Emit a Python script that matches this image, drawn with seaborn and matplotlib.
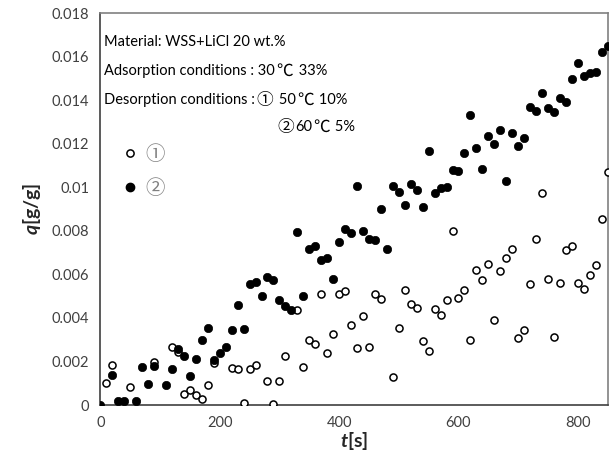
import numpy as np
import pandas as pd
import matplotlib
matplotlib.use("Agg")
import matplotlib.pyplot as plt
from matplotlib.lines import Line2D
import seaborn as sns

# condition 2 (filled): t [s], q [g/g]
t_filled = [0, 20, 30, 40, 60, 70, 80, 90, 110, 120, 130, 140, 150, 160, 170, 180, 190, 200,
            210, 220, 230, 240, 250, 260, 270, 280, 290, 300, 310, 320, 330, 340, 350, 360,
            370, 380, 390, 400, 410, 420, 430, 440, 450, 460, 470, 480, 490, 500, 510, 520,
            530, 540, 550, 560, 570, 580, 590, 600, 610, 620, 630, 640, 650, 660, 670, 680,
            690, 700, 710, 720, 730, 740, 750, 760, 770, 780, 790, 800, 810, 820, 830, 840, 850]
q_filled = [0, 0.00137, 0.0002, 0.0002, 0.0002, 0.00174, 0.00098, 0.00179, 0.00092, 0.00165,
            0.00256, 0.00226, 0.00134, 0.0021, 0.0030, 0.00354, 0.00209, 0.00241, 0.00267,
            0.00343, 0.0046, 0.00348, 0.00557, 0.00563, 0.00502, 0.0059, 0.00575, 0.0048,
            0.00453, 0.00435, 0.00793, 0.00502, 0.00717, 0.00732, 0.00667, 0.00676, 0.0058,
            0.0075, 0.00806, 0.00789, 0.01004, 0.008, 0.00764, 0.00758, 0.009, 0.00715, 0.01004,
            0.00978, 0.00917, 0.01015, 0.00989, 0.00911, 0.01167, 0.00974, 0.00995, 0.01002,
            0.0108, 0.01074, 0.01157, 0.0133, 0.01178, 0.01086, 0.01234, 0.01198, 0.01265,
            0.0103, 0.0125, 0.01189, 0.01224, 0.01367, 0.0135, 0.01434, 0.01363, 0.01346,
            0.01408, 0.01393, 0.01495, 0.01571, 0.0151, 0.01526, 0.0153, 0.01623, 0.01648]

# condition 1 (open)
t_open = [10, 20, 50, 90, 120, 130, 140, 150, 160, 170, 180, 190, 220, 230, 240, 250, 260,
          280, 290, 300, 310, 330, 340, 350, 360, 370, 380, 390, 400, 410, 420, 430, 440,
          450, 460, 470, 490, 500, 510, 520, 530, 540, 550, 560, 570, 580, 590, 600, 610,
          620, 630, 640, 650, 660, 670, 680, 690, 700, 710, 720, 730, 740, 750, 760, 770,
          780, 790, 800, 810, 820, 830, 840, 850]
q_open = [0.00102, 0.00185, 0.00082, 0.00197, 0.00266, 0.00243, 0.0005, 0.00069, 0.00046,
          0.00026, 0.00093, 0.00194, 0.0017, 0.00165, 0.0001, 0.00165, 0.00185, 0.0011,
          0.00005, 0.0011, 0.00226, 0.00435, 0.00174, 0.00297, 0.00282, 0.00508, 0.00241,
          0.00324, 0.00508, 0.00523, 0.00369, 0.00261, 0.0041, 0.00267, 0.00508, 0.00487,
          0.00128, 0.00354, 0.0053, 0.00465, 0.00447, 0.00293, 0.00246, 0.00439, 0.00415,
          0.00482, 0.008, 0.00493, 0.0053, 0.00297, 0.00621, 0.00575, 0.00647, 0.0039,
          0.00616, 0.00677, 0.00717, 0.00308, 0.00343, 0.00554, 0.00763, 0.00973, 0.0058,
          0.00313, 0.00558, 0.00713, 0.00732, 0.00558, 0.00534, 0.00595, 0.00641, 0.00856,
          0.01071]

x_ticks = [0, 200, 400, 600, 800]
y_ticks = [0, 0.002, 0.004, 0.006, 0.008, 0.01, 0.012, 0.014, 0.016, 0.018]
y_tick_labels = ["0", "0.002", "0.004", "0.006", "0.008", "0.01", "0.012", "0.014", "0.016", "0.018"]

df_open = pd.DataFrame({"t": t_open, "q": q_open})
df_filled = pd.DataFrame({"t": t_filled, "q": q_filled})

sns.set_theme(style="white")
plt.rcParams["font.family"] = ["Lato", "Noto Sans CJK JP", "DejaVu Sans"]
plt.rcParams["mathtext.fontset"] = "custom"
plt.rcParams["mathtext.it"] = "Lato:italic:bold"

LATIN = ["Lato", "Noto Sans CJK JP"]
CJK = ["Noto Sans CJK JP", "DejaVu Sans"]

fig = plt.figure(figsize=(6.12, 4.65), dpi=100)
ax = fig.add_axes([0.164, 0.129, 0.829, 0.843])

sns.scatterplot(data=df_open, x="t", y="q", ax=ax, marker="o", s=26,
                facecolor="white", edgecolor="black", linewidth=1.1, zorder=3)
sns.scatterplot(data=df_filled, x="t", y="q", ax=ax, marker="o", s=36,
                color="black", edgecolor="black", linewidth=0.5, zorder=4)

ax.set_xlim(0, 850)
ax.set_ylim(0, 0.018)
ax.set_xticks(x_ticks)
ax.set_yticks(y_ticks)
ax.set_yticklabels(y_tick_labels)
ax.tick_params(axis="both", direction="in", length=5, width=1, color="#404040",
               labelsize=10.5, labelcolor="#404040", pad=8)
for side, sp in ax.spines.items():
    sp.set_color("#808080")
    sp.set_linewidth(1.2)
ax.spines["left"].set_color("#404040")
ax.spines["bottom"].set_color("#404040")

ax.set_xlabel("$t$[s]", fontsize=14, fontweight="bold", color="#262626", labelpad=0)
ax.set_ylabel("$q$[g/g]", fontsize=14, fontweight="bold", color="#262626", labelpad=6)


def text_line(x, y, parts):
    # parts: list of (string, is_cjk); pieces are chained left to right
    prev = None
    for s, cjk in parts:
        kw = dict(fontsize=12 if cjk else 10.5, family=CJK if cjk else LATIN,
                  color="black", va="center", ha="left")
        if prev is None:
            prev = ax.text(x, y, s, transform=ax.transAxes, **kw)
        else:
            prev = ax.annotate(s, xy=(1, 0.5), xycoords=prev, xytext=(1, 0),
                               textcoords="offset points", **kw)


text_line(0.008, 0.925, [("Material: WSS+LiCl 20 wt.%", False)])
text_line(0.008, 0.851, [("Adsorption conditions : 30", False), ("\u2103", True), (" 33%", False)])
text_line(0.008, 0.777, [("Desorption conditions :", False), ("\u2460", True), (" 50", False),
                         ("\u2103", True), (" 10%", False)])
text_line(0.348, 0.708, [("\u2461", True), ("60", False), ("\u2103", True), (" 5%", False)])

handles = [Line2D([], [], marker="o", linestyle="", markersize=5.2, markerfacecolor="white",
                  markeredgecolor="black", markeredgewidth=1.1),
           Line2D([], [], marker="o", linestyle="", markersize=6, markerfacecolor="black",
                  markeredgecolor="black")]
ax.legend(handles, ["\u2460", "\u2461"], loc="upper left", bbox_to_anchor=(0.008, 0.71),
          frameon=False, prop={"family": CJK, "size": 14}, labelcolor="#7f7f7f",
          handlelength=0.8, handletextpad=0.4, labelspacing=0.65)

fig.savefig("out.png", dpi=100)
